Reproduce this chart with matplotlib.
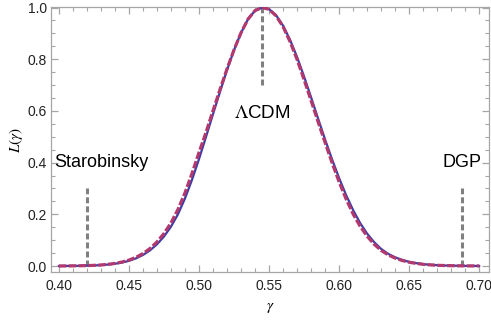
import matplotlib
matplotlib.use("Agg")
import matplotlib.pyplot as plt
from matplotlib.ticker import MultipleLocator, FormatStrFormatter

plt.rcParams['lines.scale_dashes'] = False
plt.rcParams['font.family'] = ['Liberation Sans', 'DejaVu Sans']
plt.rcParams['mathtext.fontset'] = 'stix'

# gamma grid (0.400 .. 0.700 in steps of 0.005)
gamma = [0.400, 0.405, 0.410, 0.415, 0.420, 0.425, 0.430, 0.435, 0.440, 0.445,
         0.450, 0.455, 0.460, 0.465, 0.470, 0.475, 0.480, 0.485, 0.490, 0.495,
         0.500, 0.505, 0.510, 0.515, 0.520, 0.525, 0.530, 0.535, 0.540, 0.545,
         0.550, 0.555, 0.560, 0.565, 0.570, 0.575, 0.580, 0.585, 0.590, 0.595,
         0.600, 0.605, 0.610, 0.615, 0.620, 0.625, 0.630, 0.635, 0.640, 0.645,
         0.650, 0.655, 0.660, 0.665, 0.670, 0.675, 0.680, 0.685, 0.690, 0.695,
         0.700]

# solid blue likelihood
L_solid = [0.0001, 0.0002, 0.0004, 0.0007, 0.0013, 0.0021, 0.0034, 0.0055, 0.0086, 0.0132,
           0.0198, 0.0293, 0.0424, 0.0601, 0.0835, 0.1136, 0.1516, 0.1996, 0.2606, 0.3326,
           0.4126, 0.4986, 0.5866, 0.6736, 0.7576, 0.8346, 0.9016, 0.9546, 0.9876, 0.9996,
           0.994, 0.9705, 0.930, 0.8752, 0.8084, 0.733, 0.6526, 0.5703, 0.4893, 0.4121,
           0.340, 0.274, 0.216, 0.166, 0.125, 0.092, 0.066, 0.047, 0.0335, 0.0235,
           0.016, 0.011, 0.0073, 0.0048, 0.0031, 0.002, 0.0013, 0.0008, 0.0005, 0.0003,
           0.0002]

# dashed magenta likelihood
L_dashed = [0.00013, 0.00026, 0.0005, 0.0009, 0.0015, 0.0025, 0.004, 0.0064, 0.010, 0.0152,
            0.0227, 0.0332, 0.0477, 0.0671, 0.0925, 0.125, 0.166, 0.218, 0.282, 0.357,
            0.438, 0.516, 0.600, 0.682, 0.762, 0.836, 0.902, 0.955, 0.988, 1.0,
            0.993, 0.968, 0.926, 0.868, 0.7994, 0.721, 0.640, 0.558, 0.4777, 0.399,
            0.3255, 0.259, 0.201, 0.1537, 0.1151, 0.0842, 0.0603, 0.043, 0.0305, 0.0213,
            0.0145, 0.0099, 0.0065, 0.0043, 0.0028, 0.0018, 0.0012, 0.0007, 0.0004, 0.0003,
            0.0002]

# model markers
models = ["Starobinsky", "\u039bCDM", "DGP"]
model_gamma = [0.42, 0.545, 0.6875]
marker_lo = [0.0, 0.70, 0.0]
marker_hi = [0.30, 1.0, 0.30]

fig = plt.figure(figsize=(4.91, 3.20), dpi=100)
ax = fig.add_axes([51/491, 1-272/320, (489-51)/491, (272-7)/320])

frame_col = '#a6a6a6'
for s in ax.spines.values():
    s.set_color(frame_col)
    s.set_linewidth(0.9)

ax.plot(gamma, L_solid, color='#3a3da6', lw=1.6, solid_capstyle='round', zorder=3)
ax.plot(gamma, L_dashed, color='#b2386e', lw=2.3, dashes=[5.5, 1.6], zorder=4)

for g, lo, hi in zip(model_gamma, marker_lo, marker_hi):
    ax.plot([g, g], [lo, hi], color='#808080', lw=2.2, dashes=[4.3, 2.2], zorder=2)

ax.text(0.3965, 0.383, models[0], fontsize=13, ha='left', va='baseline', color='black')
ax.text(0.545, 0.573, "$\\Lambda$CDM", fontsize=13.5, ha='center', va='baseline', color='black')
ax.text(0.6875, 0.383, models[2], fontsize=13, ha='center', va='baseline', color='black')

ax.set_xlim(0.3945, 0.7069)
ax.set_ylim(-0.0232, 1.002)

ax.xaxis.set_major_locator(MultipleLocator(0.05))
ax.xaxis.set_minor_locator(MultipleLocator(0.01))
ax.yaxis.set_major_locator(MultipleLocator(0.2))
ax.yaxis.set_minor_locator(MultipleLocator(0.05))
ax.xaxis.set_major_formatter(FormatStrFormatter('%.2f'))
ax.yaxis.set_major_formatter(FormatStrFormatter('%.1f'))

ax.tick_params(which='both', direction='in', top=True, right=True, color=frame_col,
               labelsize=10, labelcolor='#222222')
ax.tick_params(which='major', length=5, width=0.9, pad=5)
ax.tick_params(which='minor', length=3, width=0.8)
ax.tick_params(axis='y', which='major', pad=3)

ax.set_xlabel("$\\gamma$", fontsize=11, labelpad=6)
ax.set_ylabel("$L(\\gamma)$", fontsize=11, labelpad=2)

fig.savefig("out.png", dpi=100)
